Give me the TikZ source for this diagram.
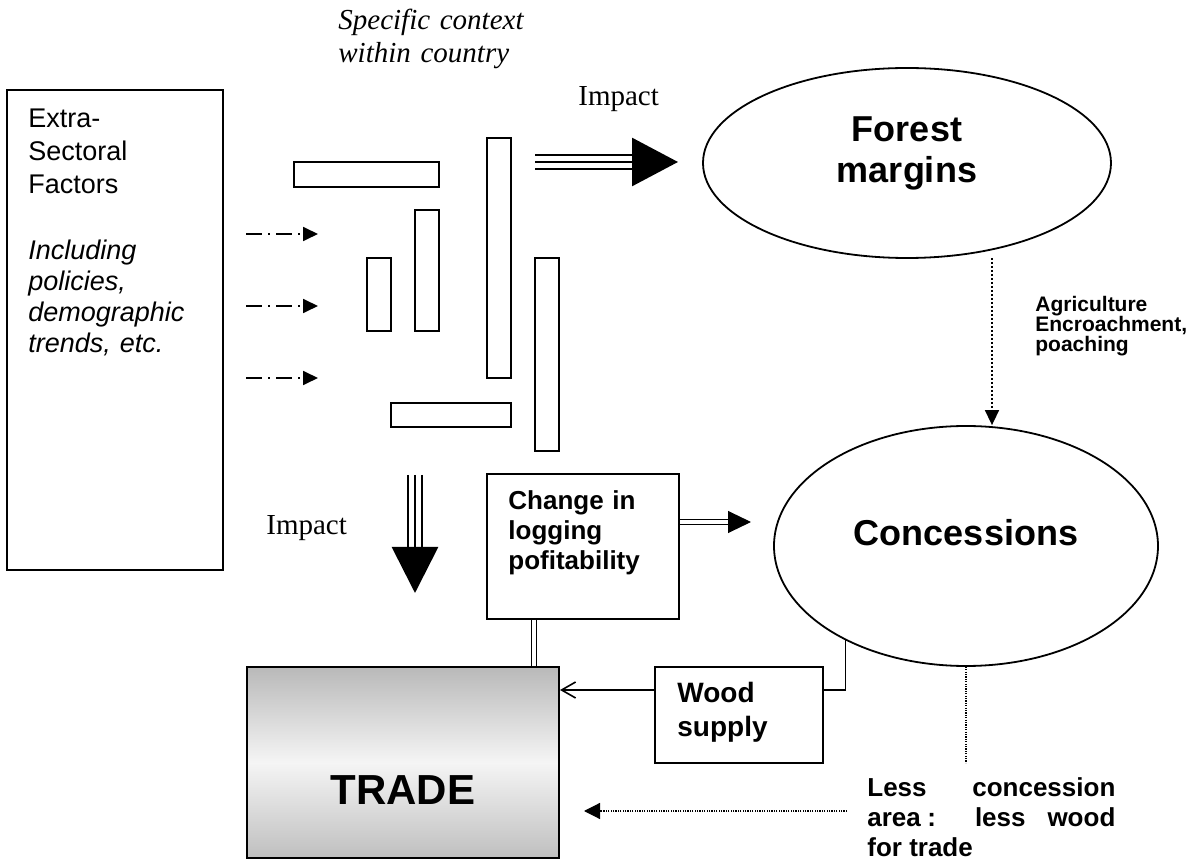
\documentclass[tikz,border=0pt]{standalone}
\usepackage{fontspec}
\setmainfont{Liberation Sans}
\newfontfamily\timesfont{Liberation Serif}
\usetikzlibrary{arrows.meta,shapes.geometric,calc}
\tikzset{
    box/.style={draw, line width=1pt, inner sep=0pt},
    oval/.style={draw, ellipse, line width=0.9pt, inner sep=0pt},
    txt/.style={inner sep=0pt, anchor=base west, align=left},
    bar/.style={draw, line width=1pt},
    dashdot/.style={line width=0.9pt, dash pattern=on 8pt off 3pt on 1pt off 3pt, -{Triangle[length=7.5pt,width=7pt]}},
    triple/.style={line width=1.4pt},
    dbl/.style={double, line width=0.6pt, double distance=1.6pt},
    dots/.style={line width=0.8pt, dash pattern=on 1pt off 1pt},
    finedots/.style={line width=0.6pt, dash pattern=on 0.6pt off 0.6pt}
}
\begin{document}
\begin{tikzpicture}[x=0.5pt,y=-0.5pt]
\useasboundingbox (0,0) rectangle (1191,866);
\node[box, minimum width=108pt, minimum height=240pt] (extra) at (115,330) {};
\node[txt, text width=95pt, font=\fontsize{13.5}{16.5}\selectfont] (extratitle) at (28,128) {Extra-\\Sectoral\\Factors};
\node[txt, text width=95pt, font={\itshape\fontsize{13.5}{15.5}\selectfont}] (extrasub) at (28,260) {Including\\policies,\\demographic\\trends, etc.};
\node[txt, text width=110pt, font={\timesfont\itshape\fontsize{14.5}{16.5}\selectfont}] (context) at (338,30) {Specific context\\within country};
\node[txt, font={\timesfont\fontsize{14.5}{16}\selectfont}] (impacttop) at (578,106) {Impact};
\node[txt, font={\timesfont\fontsize{14.5}{16}\selectfont}] (impactdown) at (266,535) {Impact};
\foreach \xa/\ya/\xb/\yb in {294/162/439/187, 415/210/439/331, 367/258/391/331, 487/138/511/378, 535/258/559/451, 391/403/511/427}
{
    \draw[bar] (\xa,\ya) rectangle (\xb,\yb);
}
\foreach \y in {234,306,378}
{
    \draw[dashdot] (246,\y) -- (318,\y);
}
\draw[triple] (535,155) -- (632,155) (535,169) -- (632,169);
\draw[triple, -{Triangle[length=23pt,width=24pt]}] (535,162) -- (678,162);
\draw[triple] (408,475) -- (408,547) (422,475) -- (422,547);
\draw[triple, -{Triangle[length=23pt,width=23pt]}] (415,475) -- (415,593);
\node[oval, minimum width=204pt, minimum height=95pt] (forest) at (907,163) {};
\node[txt, anchor=base, align=center, text width=110pt, font={\bfseries\fontsize{18}{20.5}\selectfont}] (forestlab) at ([yshift=10.5pt]forest.center) {Forest\\margins};
\node[oval, minimum width=192pt, minimum height=120pt] (conc) at (966,546) {};
\node[txt, anchor=base, font={\bfseries\fontsize{18}{20.5}\selectfont}] (conclab) at (conc.center) {Concessions};
\node[box, minimum width=156pt, minimum height=95.5pt, top color=gray!55, bottom color=gray!50, middle color=gray!8] (trade) at (403,762.5) {};
\node[txt, anchor=base, font={\bfseries\fontsize{21}{24}\selectfont}] (tradelab) at ([yshift=-21.25pt]trade.center) {TRADE};
\node[box, minimum width=96pt, minimum height=72.5pt] (chg) at (583,546.5) {};
\node[txt, text width=85pt, font={\bfseries\fontsize{13}{15}\selectfont}] (chglab) at (508,510) {Change in\\logging\\pofitability};
\node[box, minimum width=84pt, minimum height=48pt] (wood) at (739,715) {};
\node[txt, text width=70pt, font={\bfseries\fontsize{14}{17}\selectfont}] (woodlab) at (677,703) {Wood\\supply};
\node[txt, text width=80pt, font={\bfseries\fontsize{10.5}{10}\selectfont}] (agri) at (1035,312) {Agriculture\\Encroachment,\\poaching};
\node[txt, text width=124pt, align=justify, font={\bfseries\fontsize{13}{15}\selectfont}] (less) at (867,797) {Less concession\linebreak area\hspace{0.25em}: less wood\linebreak for trade};
\coordinate (chgout) at ([yshift=12.25pt]chg.east);
\draw[dbl] (chgout) -- ++(48,0) coordinate (chghead);
\draw[line width=0.5pt, -{Triangle[length=11.5pt,width=11pt]}] (chghead) -- ++(23,0);
\draw[dbl] ([xshift=24pt]chg.south west) -- ([xshift=24pt]chg.south west |- trade.north);
\coordinate (woodin) at ([yshift=12.5pt]wood.west);
\draw[line width=0.8pt, -{Straight Barb[length=7pt,width=8pt]}] (woodin) -- (woodin -| trade.east);
\draw[line width=0.8pt] (conc.218) |- ([yshift=12.5pt]wood.east);
\coordinate (agritop) at (992,258);
\draw[dots, -{Triangle[length=7.5pt,width=7pt]}] (agritop) -- (agritop |- conc.north);
\draw[finedots] (conc.south) -- ++(0,96);
\coordinate (lessend) at (847,811);
\draw[finedots, -{Triangle[length=8pt,width=8pt]}] (lessend) -- ($(trade.east |- lessend)+(24,0)$);
\end{tikzpicture}
\end{document}
